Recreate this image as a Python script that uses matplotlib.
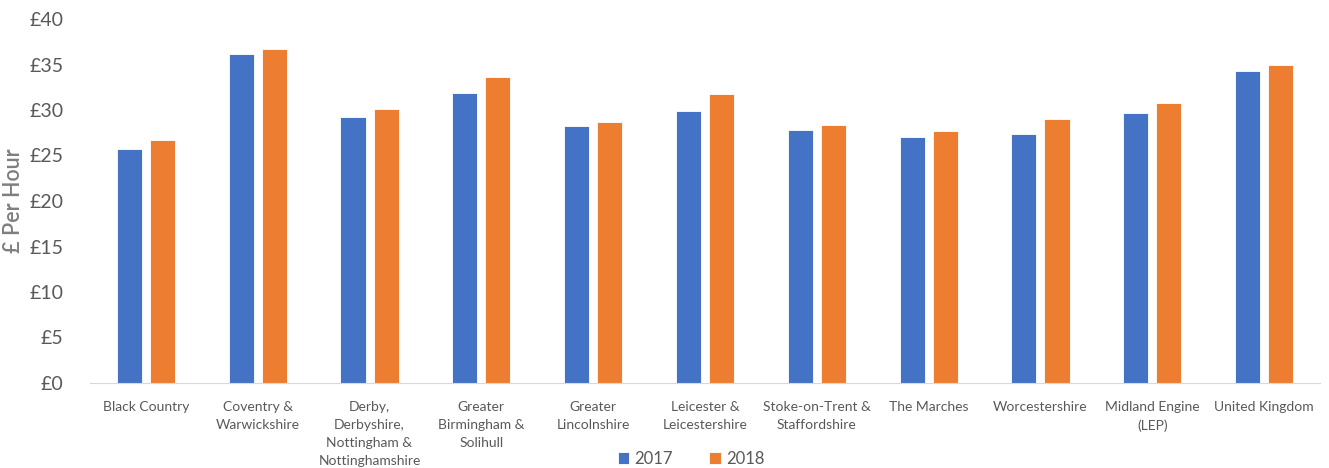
import matplotlib
matplotlib.use("Agg")
from matplotlib import pyplot as plt
import numpy as np

plt.rcParams['font.family'] = ['Lato', 'DejaVu Sans']

regions = ["Black Country", "Coventry &\nWarwickshire",
           "Derby,\nDerbyshire,\nNottingham &\nNottinghamshire",
           "Greater\nBirmingham &\nSolihull", "Greater\nLincolnshire",
           "Leicester &\nLeicestershire", "Stoke-on-Trent &\nStaffordshire",
           "The Marches", "Worcestershire", "Midland Engine\n(LEP)",
           "United Kingdom"]
pay_2017 = [25.7, 36.15, 29.2, 31.9, 28.2, 29.9, 27.8, 27.0, 27.4, 29.7, 34.3]
pay_2018 = [26.7, 36.7, 30.1, 33.6, 28.7, 31.8, 28.4, 27.7, 29.0, 30.8, 34.9]
ytick_vals = [0, 5, 10, 15, 20, 25, 30, 35, 40]
ytick_labels = ["£" + str(v) for v in ytick_vals]

grey = "#595959"
fig = plt.figure(figsize=(13.29, 4.68), dpi=100)
ax = fig.add_axes([90 / 1329, 1 - 383 / 468, 1230 / 1329, 364 / 468])

x = np.arange(len(regions))
w = 0.225
ax.bar(x - 0.148, pay_2017, w, color="#4472C4", edgecolor="white", linewidth=0.6, label="2017")
ax.bar(x + 0.148, pay_2018, w, color="#ED7D31", edgecolor="white", linewidth=0.6, label="2018")

ax.set_xlim(-0.5, len(regions) - 0.5)
ax.set_ylim(0, 40)
ax.set_yticks(ytick_vals)
ax.set_yticklabels(ytick_labels, fontsize=14, color=grey)
ax.set_xticks(x)
ax.set_xticklabels(regions, fontsize=10, color=grey, linespacing=1.6)
ax.tick_params(axis="both", length=0)
ax.tick_params(axis="x", pad=13)
ax.tick_params(axis="y", pad=19)
ax.set_ylabel("£ Per Hour", fontsize=15.5, color="#7F7F7F", fontweight="semibold", labelpad=4)

for s in ["top", "right", "left"]:
    ax.spines[s].set_visible(False)
ax.spines["bottom"].set_color("#D9D9D9")

fig.legend(loc="lower center", bbox_to_anchor=(0.52, -0.03), ncol=2, frameon=False,
           fontsize=12, handlelength=0.7, handleheight=0.7, columnspacing=2.2,
           handletextpad=0.3, labelcolor=grey)

fig.savefig("out.png", dpi=100)
